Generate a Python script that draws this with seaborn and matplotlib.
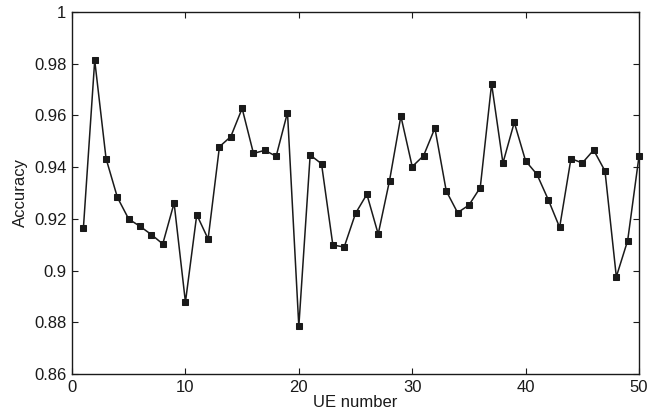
import numpy as np
import pandas as pd
import matplotlib
matplotlib.use("Agg")
import matplotlib.pyplot as plt
import seaborn as sns

ue_number = list(range(1, 51))
accuracy = [
    0.9163, 0.9813, 0.9433, 0.9283, 0.9199, 0.9171, 0.9139, 0.9103, 0.9261, 0.8878,
    0.9216, 0.9122, 0.9479, 0.9518, 0.9627, 0.9453, 0.9465, 0.9442, 0.9611, 0.8784,
    0.9447, 0.9413, 0.9099, 0.9091, 0.9221, 0.9295, 0.9141, 0.9348, 0.9597, 0.9402,
    0.9444, 0.9551, 0.9308, 0.9224, 0.9253, 0.9321, 0.9722, 0.9416, 0.9573, 0.9424,
    0.9372, 0.9274, 0.9167, 0.9433, 0.9416, 0.9466, 0.9385, 0.8976, 0.9116, 0.9442,
]
x_ticks = [0, 10, 20, 30, 40, 50]
y_ticks = [0.86, 0.88, 0.9, 0.92, 0.94, 0.96, 0.98, 1]
y_tick_labels = ["0.86", "0.88", "0.9", "0.92", "0.94", "0.96", "0.98", "1"]

df = pd.DataFrame({"UE number": ue_number, "Accuracy": accuracy})

sns.set_style("ticks")
plt.rcParams["font.family"] = ["Liberation Sans", "DejaVu Sans"]
plt.rcParams["xtick.direction"] = "in"
plt.rcParams["ytick.direction"] = "in"

fig = plt.figure(figsize=(6.49, 4.2), dpi=100)
ax = fig.add_axes([0.111, 0.1095, 0.8736, 0.862])
sns.lineplot(data=df, x="UE number", y="Accuracy", ax=ax, color="#1a1a1a",
             linewidth=1.1, marker="s", markersize=5, markeredgecolor="#1a1a1a",
             markerfacecolor="#1a1a1a", clip_on=False)

ax.set_xlim(0, 50)
ax.set_ylim(0.86, 1)
ax.set_xticks(x_ticks)
ax.set_yticks(y_ticks)
ax.set_yticklabels(y_tick_labels)
ax.tick_params(axis="both", labelsize=12, length=4, width=0.8, color="#1a1a1a",
               top=True, right=True, labelcolor="#1a1a1a")
ax.tick_params(axis="y", pad=4)
ax.tick_params(axis="x", pad=4)
for s in ax.spines.values():
    s.set_linewidth(1.0)
    s.set_color("#1a1a1a")
ax.set_xlabel("UE number", fontsize=12, color="#1a1a1a", labelpad=0)
ax.set_ylabel("Accuracy", fontsize=12, color="#1a1a1a", labelpad=4)

fig.savefig("out.png", dpi=100)
